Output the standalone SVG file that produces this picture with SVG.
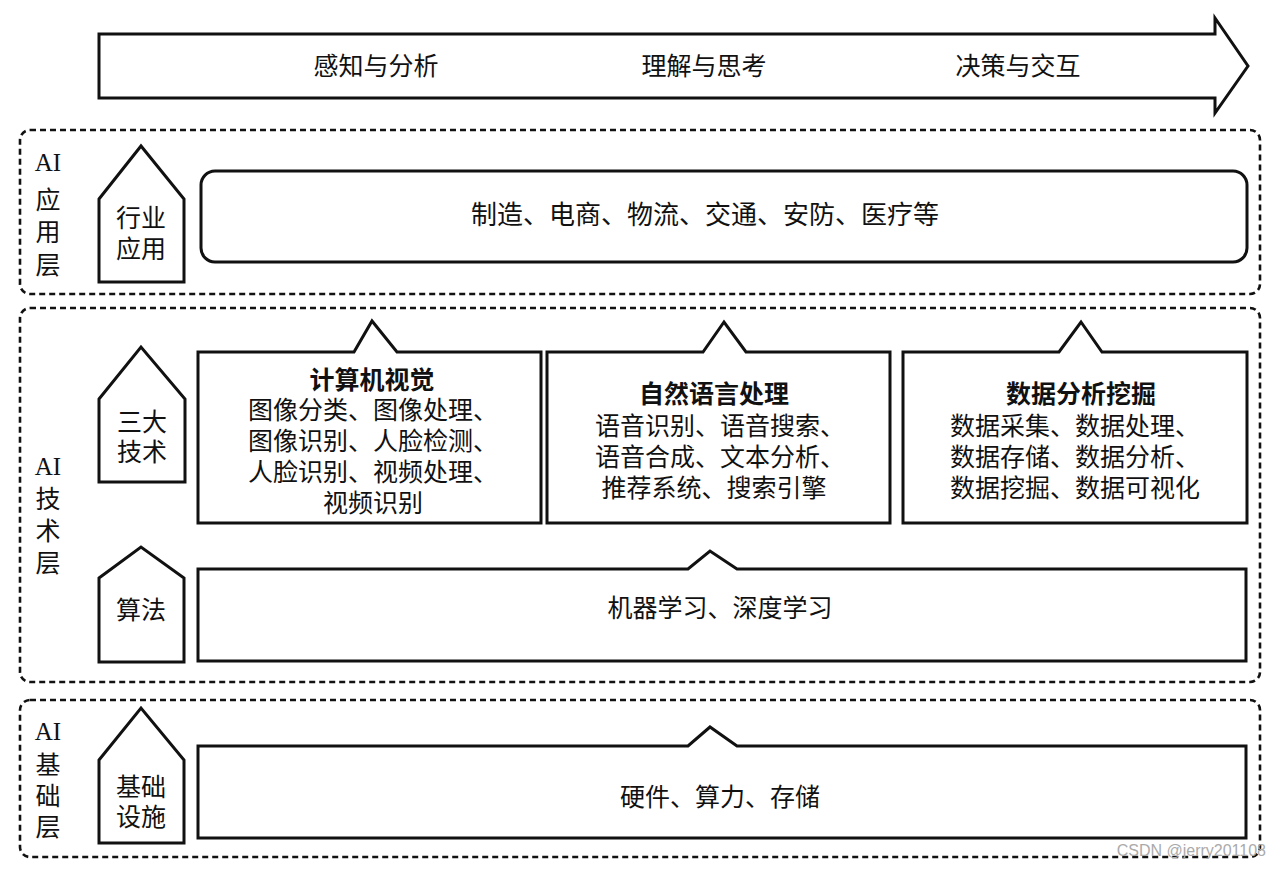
<svg xmlns="http://www.w3.org/2000/svg" width="1280" height="870" viewBox="0 0 1280 870">
<style>
.bg{fill:#fff}
.layer{fill:none;stroke:#111;stroke-width:2.6;stroke-dasharray:6 4}
.box{fill:#fff;stroke:#111;stroke-width:3;stroke-linejoin:miter}
.t{font-family:"Liberation Serif","Noto Sans CJK SC",serif;font-size:25px;fill:#111;text-anchor:middle;dominant-baseline:central}
.tb{font-family:"Noto Sans CJK SC","Liberation Sans",sans-serif;font-size:25px;font-weight:bold;fill:#111;text-anchor:middle;dominant-baseline:central}
.wm{font-family:"Liberation Sans","Noto Sans",sans-serif;font-size:16px;fill:#aaa;text-anchor:end;dominant-baseline:central}
</style>
<rect class="bg" width="1280" height="870"/>

<g id="flow-arrow">
<path class="box" d="M99,34 H1215 V18 L1248,66 L1215,113 V98 H99 Z"/>
<text class="t" x="376" y="66">感知与分析</text>
<text class="t" x="704" y="66">理解与思考</text>
<text class="t" x="1018" y="66">决策与交互</text>
</g>

<g id="layer-app">
<rect class="layer" x="20" y="130" width="1240" height="164" rx="10"/>
<text class="t" x="48" y="162">AI</text>
<text class="t" x="48" y="200">应</text>
<text class="t" x="48" y="232">用</text>
<text class="t" x="48" y="265">层</text>
</g>
<g id="house-industry">
<path class="box" d="M99,199 L141,146 L184,199 V282 H99 Z"/>
<text class="t" x="141" y="218">行业</text>
<text class="t" x="141" y="249">应用</text>
</g>
<g id="box-industry">
<rect class="box" x="201" y="171" width="1046" height="91" rx="14"/>
<text class="t" x="705" y="215" style="font-size:26px">制造、电商、物流、交通、安防、医疗等</text>
</g>

<g id="layer-tech">
<rect class="layer" x="20" y="308" width="1240" height="374" rx="10"/>
<text class="t" x="48" y="466">AI</text>
<text class="t" x="48" y="499">技</text>
<text class="t" x="48" y="531">术</text>
<text class="t" x="48" y="563">层</text>
</g>
<g id="house-three">
<path class="box" d="M99,399 L141,347 L185,399 V482 H99 Z"/>
<text class="t" x="142" y="422">三大</text>
<text class="t" x="142" y="452">技术</text>
</g>
<g id="box-cv">
<path class="box" d="M198,352 H354 L372,321 L397,352 H541 V523 H198 Z"/>
<text class="tb" x="372" y="378">计算机视觉</text>
<text class="t" x="373" y="410">图像分类、图像处理、</text>
<text class="t" x="373" y="441">图像识别、人脸检测、</text>
<text class="t" x="373" y="472">人脸识别、视频处理、</text>
<text class="t" x="373" y="503">视频识别</text>
</g>
<g id="box-nlp">
<path class="box" d="M547,352 H703 L724,322 L746,352 H890 V523 H547 Z"/>
<text class="tb" x="714" y="392">自然语言处理</text>
<text class="t" x="720" y="426">语音识别、语音搜索、</text>
<text class="t" x="720" y="457">语音合成、文本分析、</text>
<text class="t" x="714" y="488">推荐系统、搜索引擎</text>
</g>
<g id="box-data">
<path class="box" d="M903,352 H1059 L1081,322 L1102,352 H1247 V523 H903 Z"/>
<text class="tb" x="1081" y="392">数据分析挖掘</text>
<text class="t" x="1075" y="426">数据采集、数据处理、</text>
<text class="t" x="1075" y="457">数据存储、数据分析、</text>
<text class="t" x="1075" y="488">数据挖掘、数据可视化</text>
</g>
<g id="house-algo">
<path class="box" d="M99,578 L141,547 L184,578 V662 H99 Z"/>
<text class="t" x="141" y="610">算法</text>
</g>
<g id="box-ml">
<path class="box" d="M198,569 H688 L710,551 L737,569 H1246 V661 H198 Z"/>
<text class="t" x="720" y="608">机器学习、深度学习</text>
</g>

<g id="layer-base">
<rect class="layer" x="20" y="700" width="1240" height="157" rx="10"/>
<text class="t" x="48" y="731">AI</text>
<text class="t" x="48" y="765">基</text>
<text class="t" x="48" y="796">础</text>
<text class="t" x="48" y="827">层</text>
</g>
<g id="house-infra">
<path class="box" d="M99,760 L141,708 L184,760 V843 H99 Z"/>
<text class="t" x="141" y="787">基础</text>
<text class="t" x="141" y="817">设施</text>
</g>
<g id="box-hw">
<path class="box" d="M198,746 H688 L710,727 L737,746 H1246 V838 H198 Z"/>
<text class="t" x="720" y="797">硬件、算力、存储</text>
</g>

<g id="connectors"></g>

<text class="wm" x="1266" y="850">CSDN @jerry201108</text>
</svg>
